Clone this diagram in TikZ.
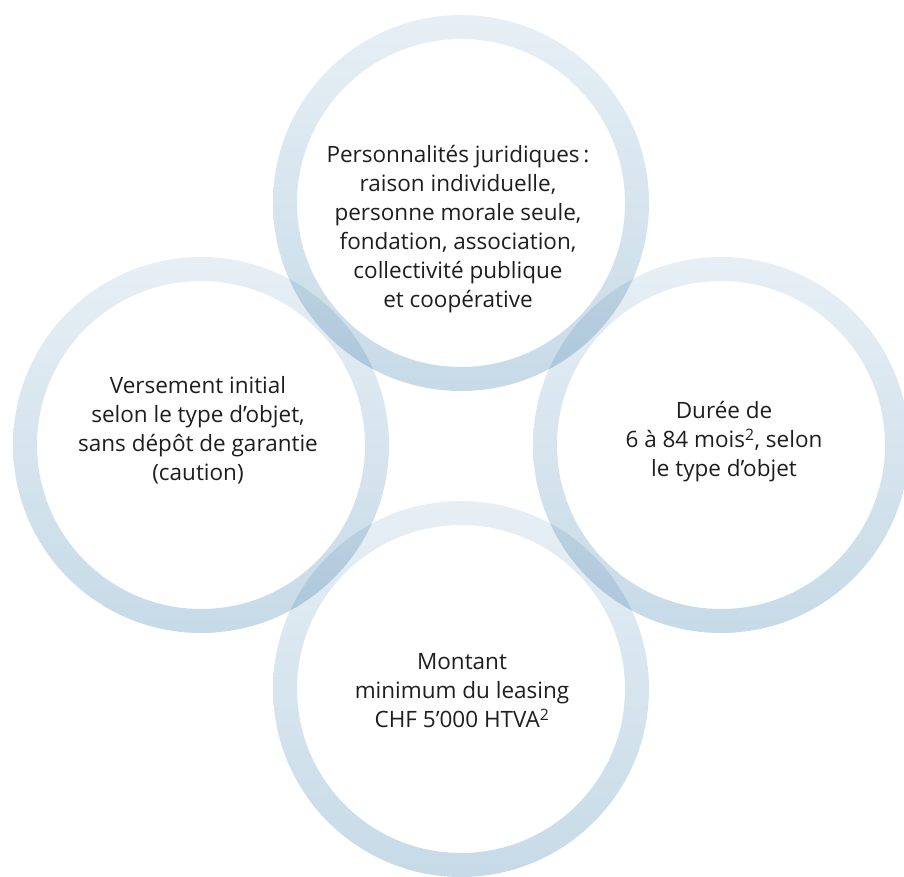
\documentclass[tikz,border=0pt]{standalone}
\usepackage{fontspec}
\setmainfont{Open Sans}
\definecolor{ringtop}{RGB}{231,239,245}
\definecolor{ringbot}{RGB}{198,218,231}
\definecolor{txt}{RGB}{30,30,30}
\tikzset{
  ring/.style={even odd rule, top color=ringtop, bottom color=ringbot, draw=none},
  lbl/.style={align=center, font=\fontsize{22.5}{29}\selectfont, text=txt, inner sep=0pt}
}
\begin{document}
\begin{tikzpicture}[x=1pt,y=-1pt]
\useasboundingbox (0,0) rectangle (904,877);
\coordinate (ct) at (461,203);
\coordinate (cl) at (201,445);
\coordinate (cr) at (721,445);
\coordinate (cb) at (461,689);
\begin{scope}[blend mode=multiply]
\foreach \c in {ct,cl,cr,cb}{
  \shade[ring] (\c) circle[radius=188pt] (\c) circle[radius=164pt];
}
\end{scope}
\node[lbl] (tt) at (458,229) {Personnalités juridiques\,:\\raison individuelle,\\personne morale seule,\\fondation, association,\\collectivité publique\\et coopérative};
\node[lbl] (tl) at (198,430) {Versement initial\\selon le type d’objet,\\sans dépôt de garantie\\(caution)};
\node[lbl] (tr) at (724,442) {Durée de\\6 à 84 mois\textsuperscript{2}, selon\\le type d’objet};
\node[lbl] (tb) at (462,691) {Montant\\minimum du leasing\\CHF 5’000 HTVA\textsuperscript{2}};
\end{tikzpicture}
\end{document}
